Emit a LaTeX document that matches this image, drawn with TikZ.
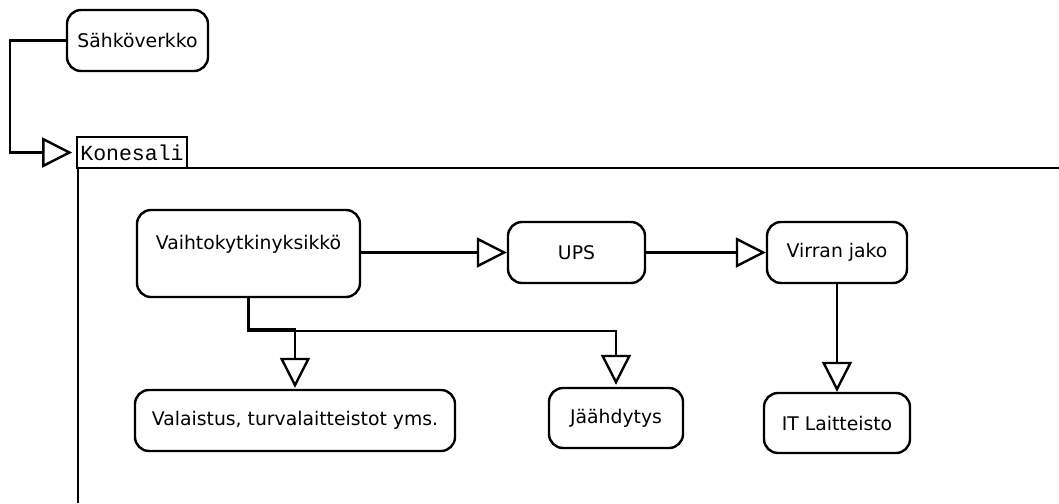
\documentclass[tikz,border=0pt]{standalone}
\usepackage{fontspec}
\setmainfont{DejaVu Sans}
\newfontfamily\tabfont{Liberation Mono}
\usetikzlibrary{arrows.meta}
\tikzset{
  box/.style={draw, line width=2.4pt, rounded corners=14pt, inner sep=0pt,
    font=\fontsize{18.8}{23}\selectfont, align=center},
  link/.style={line width=2.4pt, -{Triangle[length=30pt, width=30pt, fill=white, line width=2.4pt]}},
  frameline/.style={line width=2.4pt},
}
\begin{document}
\begin{tikzpicture}[x=1pt, y=-1pt]
\useasboundingbox (0,0) rectangle (1059,503);

% nodes
\node[box, minimum width=141pt, minimum height=61pt] (grid) at (137.5,40.5) {Sähköverkko};
\node[draw, line width=1.8pt, inner sep=0pt, minimum width=110pt, minimum height=31pt,
      font=\tabfont\fontsize{21.5}{24}\selectfont] (hall) at (132,152.5) {Konesali};

\node[box, minimum width=223pt, minimum height=87pt, text height=14.5pt, text depth=22.5pt]
      (ats) at (248.5,253.5) {Vaihtokytkinyksikkö};
\node[box, minimum width=137pt, minimum height=61pt] (ups) at (576.5,252.5) {UPS};
\node[box, minimum width=140pt, minimum height=61pt] (pdu) at (837,252.5) {Virran jako};
\node[box, minimum width=320pt, minimum height=61pt] (light) at (295,420.5) {Valaistus, turvalaitteistot yms.};
\node[box, minimum width=134pt, minimum height=60pt] (cool) at (616,418) {Jäähdytys};
\node[box, minimum width=146pt, minimum height=60pt] (it) at (837,423) {IT Laitteisto};

% frame of the hall
\coordinate (frameBottom) at (78,503);
\coordinate (frameRight) at (1059,168);
\draw[frameline] (frameBottom) |- (frameRight);

% connectors
\draw[link, shorten >=4pt] (grid.west) -- ++(-56,0) |- (hall.west);
\draw[link] (ats.east |- ups.west) -- (ups.west);
\draw[link] (ups.east) -- (pdu.west);
\draw[link] (pdu.south) -- (it.north);
\draw[link, shorten >=1pt] (ats.south) -- ++(0,31) -| (light.north);
\draw[link, shorten >=2pt] (ats.south) -- ++(0,32.5) -| (cool.north);
\end{tikzpicture}
\end{document}
